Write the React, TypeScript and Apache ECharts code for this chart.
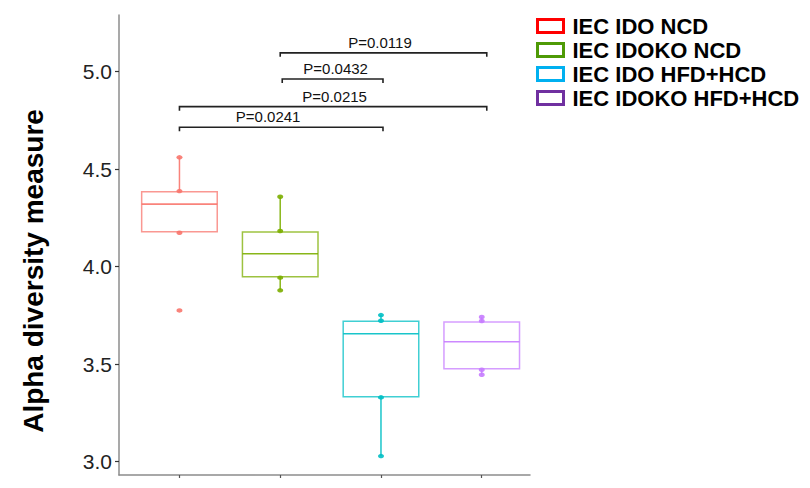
import React, { useEffect, useRef } from "react";
import * as echarts from "echarts";

// ---- data ----
const groups = ["IEC IDO NCD", "IEC IDOKO NCD", "IEC IDO HFD+HCD", "IEC IDOKO HFD+HCD"];
const groupPos = [1, 2, 3, 4];
// [lower whisker, Q1, median, Q3, upper whisker]
const boxStats = [
  [4.174, 4.179, 4.321, 4.385, 4.561],
  [3.879, 3.949, 4.067, 4.178, 4.359],
  [3.029, 3.333, 3.656, 3.72, 3.752],
  [3.446, 3.477, 3.615, 3.716, 3.742],
];
const samplePoints = [
  [4.561, 4.388, 4.174, 3.776],
  [4.359, 4.183, 3.944, 3.879],
  [3.752, 3.723, 3.33, 3.029],
  [3.742, 3.722, 3.472, 3.446],
];
const boxColors = ["#F8766D", "#7CAE00", "#00BFC4", "#C77CFF"];
const legendColors = ["#FF0000", "#4E9A06", "#00B0F0", "#7030A0"];
const yTicks = [3.0, 3.5, 4.0, 4.5, 5.0];
const xTicks = [1, 2, 3, 4];
// significance brackets: from group, to group, height, label, label centre
const bracketFrom = [2, 2.02, 1, 1];
const bracketTo = [4.05, 3.02, 4.05, 3.02];
const bracketY = [5.097, 4.963, 4.821, 4.715];
const bracketLabels = ["P=0.0119", "P=0.0432", "P=0.0215", "P=0.0241"];
const bracketLabelX = [2.99, 2.55, 2.54, 1.88];

const FONT = '"Liberation Sans", Arial, Helvetica, sans-serif';

export default function App() {
  const ref = useRef<HTMLDivElement>(null);
  useEffect(() => {
    if (!ref.current) return;
    const chart = echarts.init(ref.current, undefined, { renderer: "svg" });

    const boxSeries = groups.map((name, i) => ({
      name,
      type: "custom",
      silent: true,
      encode: { x: 0, y: [1, 2, 3, 4, 5] },
      itemStyle: { color: legendColors[i] },
      data: [[groupPos[i], ...boxStats[i]]],
      renderItem: (params: any, api: any) => {
        const x = api.value(0);
        const lo = api.value(1), q1 = api.value(2), med = api.value(3), q3 = api.value(4), hi = api.value(5);
        const hw = api.size([0.75, 0])[0] / 2;
        const pTop = api.coord([x, q3]);
        const pBot = api.coord([x, q1]);
        const pMed = api.coord([x, med]);
        const pHi = api.coord([x, hi]);
        const pLo = api.coord([x, lo]);
        const c = boxColors[i];
        return {
          type: "group",
          children: [
            {
              type: "rect",
              shape: { x: pTop[0] - hw, y: pTop[1], width: hw * 2, height: pBot[1] - pTop[1] },
              style: { fill: "none", stroke: c, lineWidth: 1.5, opacity: 0.75 },
            },
            {
              type: "line",
              shape: { x1: pMed[0] - hw, y1: pMed[1], x2: pMed[0] + hw, y2: pMed[1] },
              style: { stroke: c, lineWidth: 1.6, opacity: 0.9 },
            },
            {
              type: "line",
              shape: { x1: pTop[0], y1: pTop[1], x2: pHi[0], y2: pHi[1] },
              style: { stroke: c, lineWidth: 1.5, opacity: 0.9 },
            },
            {
              type: "line",
              shape: { x1: pBot[0], y1: pBot[1], x2: pLo[0], y2: pLo[1] },
              style: { stroke: c, lineWidth: 1.5, opacity: 0.9 },
            },
          ],
        };
      },
    }));

    const pointSeries = groups.map((name, i) => ({
      name: name + " points",
      type: "scatter",
      silent: true,
      symbol: "circle",
      symbolSize: [6, 4.5],
      itemStyle: { color: boxColors[i], opacity: 0.9 },
      data: samplePoints[i].map((v) => [groupPos[i], v]),
      z: 3,
    }));

    const bracketSeries = {
      name: "brackets",
      type: "custom",
      silent: true,
      encode: { x: [0, 1], y: 2 },
      data: bracketFrom.map((f, k) => [f, bracketTo[k], bracketY[k], bracketLabelX[k]]),
      renderItem: (params: any, api: any) => {
        const k = params.dataIndex;
        const a = api.coord([api.value(0), api.value(2)]);
        const b = api.coord([api.value(1), api.value(2)]);
        const t = api.coord([api.value(3), api.value(2)]);
        return {
          type: "group",
          children: [
            {
              type: "polyline",
              shape: { points: [[a[0], a[1] + 4], [a[0], a[1]], [b[0], b[1]], [b[0], b[1] + 4]] },
              style: { stroke: "#222", lineWidth: 1.6, fill: "none" },
            },
            {
              type: "text",
              x: t[0],
              y: t[1] - 3,
              style: {
                text: bracketLabels[k],
                fontSize: 15,
                fontFamily: FONT,
                fill: "#111",
                align: "center",
                verticalAlign: "bottom",
              },
            },
          ],
        };
      },
    };

    chart.setOption({
      animation: false,
      textStyle: { fontFamily: FONT },
      grid: { left: 119, right: 280, top: 15, bottom: 13, containLabel: false },
      xAxis: {
        type: "value",
        min: 0.4,
        max: 4.479,
        axisLine: { show: true, lineStyle: { color: "#8c8c8c", width: 1.5 } },
        axisTick: { show: true, customValues: xTicks, length: 3, lineStyle: { color: "#555", width: 1.2 } },
        axisLabel: { show: false },
        splitLine: { show: false },
      },
      yAxis: {
        type: "value",
        min: 2.932,
        max: 5.291,
        axisLine: { show: true, lineStyle: { color: "#8c8c8c", width: 1.5 } },
        axisTick: { show: true, customValues: yTicks, length: 4, lineStyle: { color: "#333", width: 1.2 } },
        axisLabel: {
          show: true,
          customValues: yTicks,
          formatter: (v: number) => v.toFixed(1),
          fontSize: 21,
          color: "#222",
          margin: 7,
          fontFamily: FONT,
        },
        splitLine: { show: false },
      },
      legend: {
        orient: "vertical",
        left: 531,
        top: 10,
        itemWidth: 26,
        itemHeight: 13,
        itemGap: 2,
        selectedMode: false,
        icon: "rect",
        textStyle: { fontSize: 22, fontWeight: "bold", color: "#000", fontFamily: FONT, padding: [0, 0, 0, 4] },
        data: groups.map((g, i) => ({
          name: g,
          icon: "rect",
          itemStyle: { color: "#ffffff", borderColor: legendColors[i], borderWidth: 3 },
        })),
      },
      graphic: [
        {
          type: "text",
          x: 33,
          y: 271,
          rotation: Math.PI / 2,
          style: {
            text: "Alpha diversity measure",
            fontSize: 28,
            fontWeight: "bold",
            fontFamily: FONT,
            fill: "#000",
            align: "center",
            verticalAlign: "middle",
          },
        },
      ],
      series: [...boxSeries, ...pointSeries, bracketSeries],
    });

    return () => chart.dispose();
  }, []);

  return (
    <div
      ref={ref}
      style={{ position: "fixed", left: 0, top: 0, width: 810, height: 488, background: "#fff" }}
    />
  );
}
